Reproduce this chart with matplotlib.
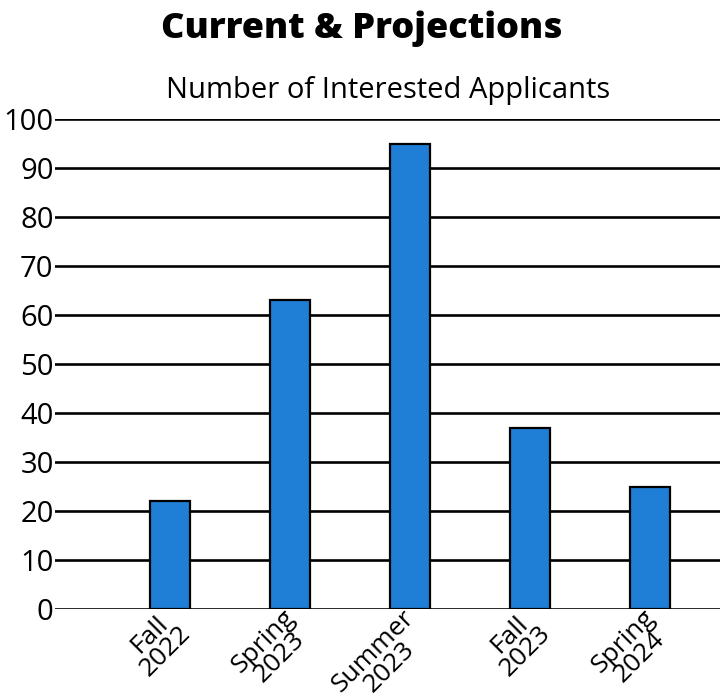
import matplotlib
matplotlib.use("Agg")
import matplotlib.pyplot as plt
from matplotlib.transforms import ScaledTranslation

categories = ["Fall\n2022", "Spring\n2023", "Summer\n2023", "Fall\n2023", "Spring\n2024"]
applicants = [22, 63, 95, 37, 25]
y_ticks = [0, 10, 20, 30, 40, 50, 60, 70, 80, 90, 100]

plt.rcParams["font.family"] = ["Open Sans", "DejaVu Sans"]

fig = plt.figure(figsize=(7.28, 6.96), dpi=100)
ax = fig.add_axes([0.0755, 0.125, 0.9135, 0.704])

x = list(range(len(categories)))
ax.set_axisbelow(True)
ax.yaxis.grid(True, color="black", linewidth=1.9)
ax.bar(x, applicants, width=0.33, color="#1f7fd6", edgecolor="black", linewidth=1.6, zorder=3)

ax.set_xlim(-0.958, 4.583)
ax.set_ylim(0, 100)
ax.set_yticks(y_ticks)
ax.set_yticklabels([str(v) for v in y_ticks], fontsize=21)
ax.set_xticks(x)
ax.set_xticklabels(categories, rotation=45, ha="right", va="center", rotation_mode="anchor",
                   fontsize=19, linespacing=0.88, multialignment="center")
ax.tick_params(axis="both", length=0, pad=1)
ax.tick_params(axis="x", pad=0)
shift = ScaledTranslation(0.09, -0.125, fig.dpi_scale_trans)
for lbl in ax.get_xticklabels():
    lbl.set_transform(lbl.get_transform() + shift)
for s in ax.spines.values():
    s.set_visible(False)

fig.text(0.497, 0.958, "Current & Projections", ha="center", va="center",
         fontsize=26, fontweight="heavy")
fig.text(0.533, 0.870, "Number of Interested Applicants", ha="center", va="center",
         fontsize=21)

fig.savefig("out.png", dpi=100)
